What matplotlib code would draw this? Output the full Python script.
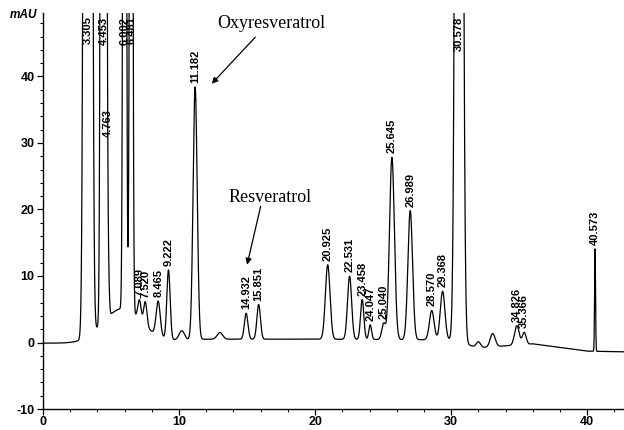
import numpy as np
import matplotlib
matplotlib.use("Agg")
import matplotlib.pyplot as plt
from matplotlib.ticker import MultipleLocator

# ---- peak table (retention time [min], height [mAU], sigma [min], label) ----
peak_rt = [3.30, 4.45, 4.763, 6.00, 6.48, 7.089, 7.520, 8.465, 9.222, 10.2,
           11.182, 13.0, 14.932, 15.851, 20.925, 22.531, 23.458, 24.047,
           25.040, 25.645, 26.989, 28.570, 29.368, 30.578, 32.0, 33.05,
           34.826, 35.366, 40.573]
peak_height = [1000, 1000, 9, 300, 220, 3.0, 3.6, 5.2, 10.4, 1.4,
               38.0, 1.0, 3.9, 5.2, 11.2, 9.5, 6.0, 2.2,
               2.4, 27.4, 19.4, 4.4, 7.3, 400, 0.9, 2.0,
               2.9, 1.8, 15.4]
peak_sigma = [0.16, 0.11, 0.08, 0.085, 0.085, 0.12, 0.12, 0.15, 0.12, 0.2,
              0.15, 0.2, 0.13, 0.13, 0.17, 0.15, 0.12, 0.10,
              0.14, 0.18, 0.17, 0.17, 0.17, 0.18, 0.15, 0.18,
              0.17, 0.14, 0.035]
peak_label = ["3.305", "4.453", "4.763", "6.002", "6.481", "7.089", "7.520",
              "8.465", "9.222", "", "11.182", "", "14.932", "15.851",
              "20.925", "22.531", "23.458", "24.047", "25.040", "25.645",
              "26.989", "28.570", "29.368", "30.578", "", "", "34.826",
              "35.366", "40.573"]

# broad unresolved hump under the early peaks
hump_rt, hump_height, hump_sigma = 5.8, 5.0, 1.4

# baseline drift anchors
base_t = [0.0, 2.5, 9.8, 12.0, 20.0, 30.0, 32.0, 34.0, 36.0, 40.0, 42.7]
base_v = [-0.1, -0.1, 0.3, 0.5, 0.5, 0.4, -0.8, -0.5, -0.2, -1.3, -1.4]

annotations = [("Oxyresveratrol", 16.8, 48.0, 15.6, 45.9, 12.4, 38.9),
               ("Resveratrol", 16.7, 21.8, 16.0, 20.5, 15.0, 11.7)]

XMAX, YMIN, YMAX = 42.7, -10, 49.6

# ---- build trace ----
t = np.linspace(0, XMAX, 9000)
y = np.interp(t, base_t, base_v)
y = y + hump_height * np.exp(-0.5 * ((t - hump_rt) / hump_sigma) ** 2)
for r, h, s in zip(peak_rt, peak_height, peak_sigma):
    y = y + h * np.exp(-0.5 * ((t - r) / s) ** 2)

fig = plt.figure(figsize=(6.24, 4.30), dpi=100)
ax = fig.add_axes([0.0689, 0.0488, 1.0 - 0.0689, 0.9219])
ax.plot(t, y, color="black", lw=0.9)
ax.set_xlim(0, XMAX)
ax.set_ylim(YMIN, YMAX)

for sp in ("top", "right"):
    ax.spines[sp].set_visible(False)
for sp in ("left", "bottom"):
    ax.spines[sp].set_linewidth(1.0)

ax.xaxis.set_major_locator(MultipleLocator(10))
ax.xaxis.set_minor_locator(MultipleLocator(2))
ax.yaxis.set_major_locator(MultipleLocator(10))
ax.yaxis.set_minor_locator(MultipleLocator(2))
ax.tick_params(which="major", length=4, width=0.9, direction="out")
ax.tick_params(which="minor", length=2, width=0.7, direction="out")
tick_font = dict(family="Liberation Sans", weight="bold", size=9)
ax.set_xticks([0, 10, 20, 30, 40])
ax.set_xticklabels(["0", "10", "20", "30", "40"], **tick_font)
ax.set_yticks([-10, 0, 10, 20, 30, 40])
ax.set_yticklabels(["-10", "0", "10", "20", "30", "40"], **tick_font)
ax.tick_params(axis="x", pad=1)
ax.tick_params(axis="y", pad=2)

ax.text(-0.45, 49.2, "mAU", ha="right", va="center", family="Liberation Sans",
        weight="bold", style="italic", size=8.5, clip_on=False)

# ---- peak labels ----
lab_font = dict(family="Liberation Sans", weight="bold", size=8)
for r, lab in zip(peak_rt, peak_label):
    if not lab:
        continue
    apex = float(np.interp(r, t, y))
    if apex > YMAX - 6:
        ax.text(r, YMAX - 0.6, lab, rotation=90, ha="center", va="top", **lab_font)
    else:
        ax.text(r, apex + 0.6, lab, rotation=90, ha="center", va="bottom", **lab_font)

# ---- compound annotations ----
for name, tx, ty, x0, y0, x1, y1 in annotations:
    ax.text(tx, ty, name, ha="center", va="center", family="Liberation Serif", size=13)
    ax.annotate("", xy=(x1, y1), xytext=(x0, y0),
                arrowprops=dict(arrowstyle="-|>", color="black", lw=0.9,
                                mutation_scale=9, shrinkA=0, shrinkB=0))

fig.savefig("out.png", dpi=100)
